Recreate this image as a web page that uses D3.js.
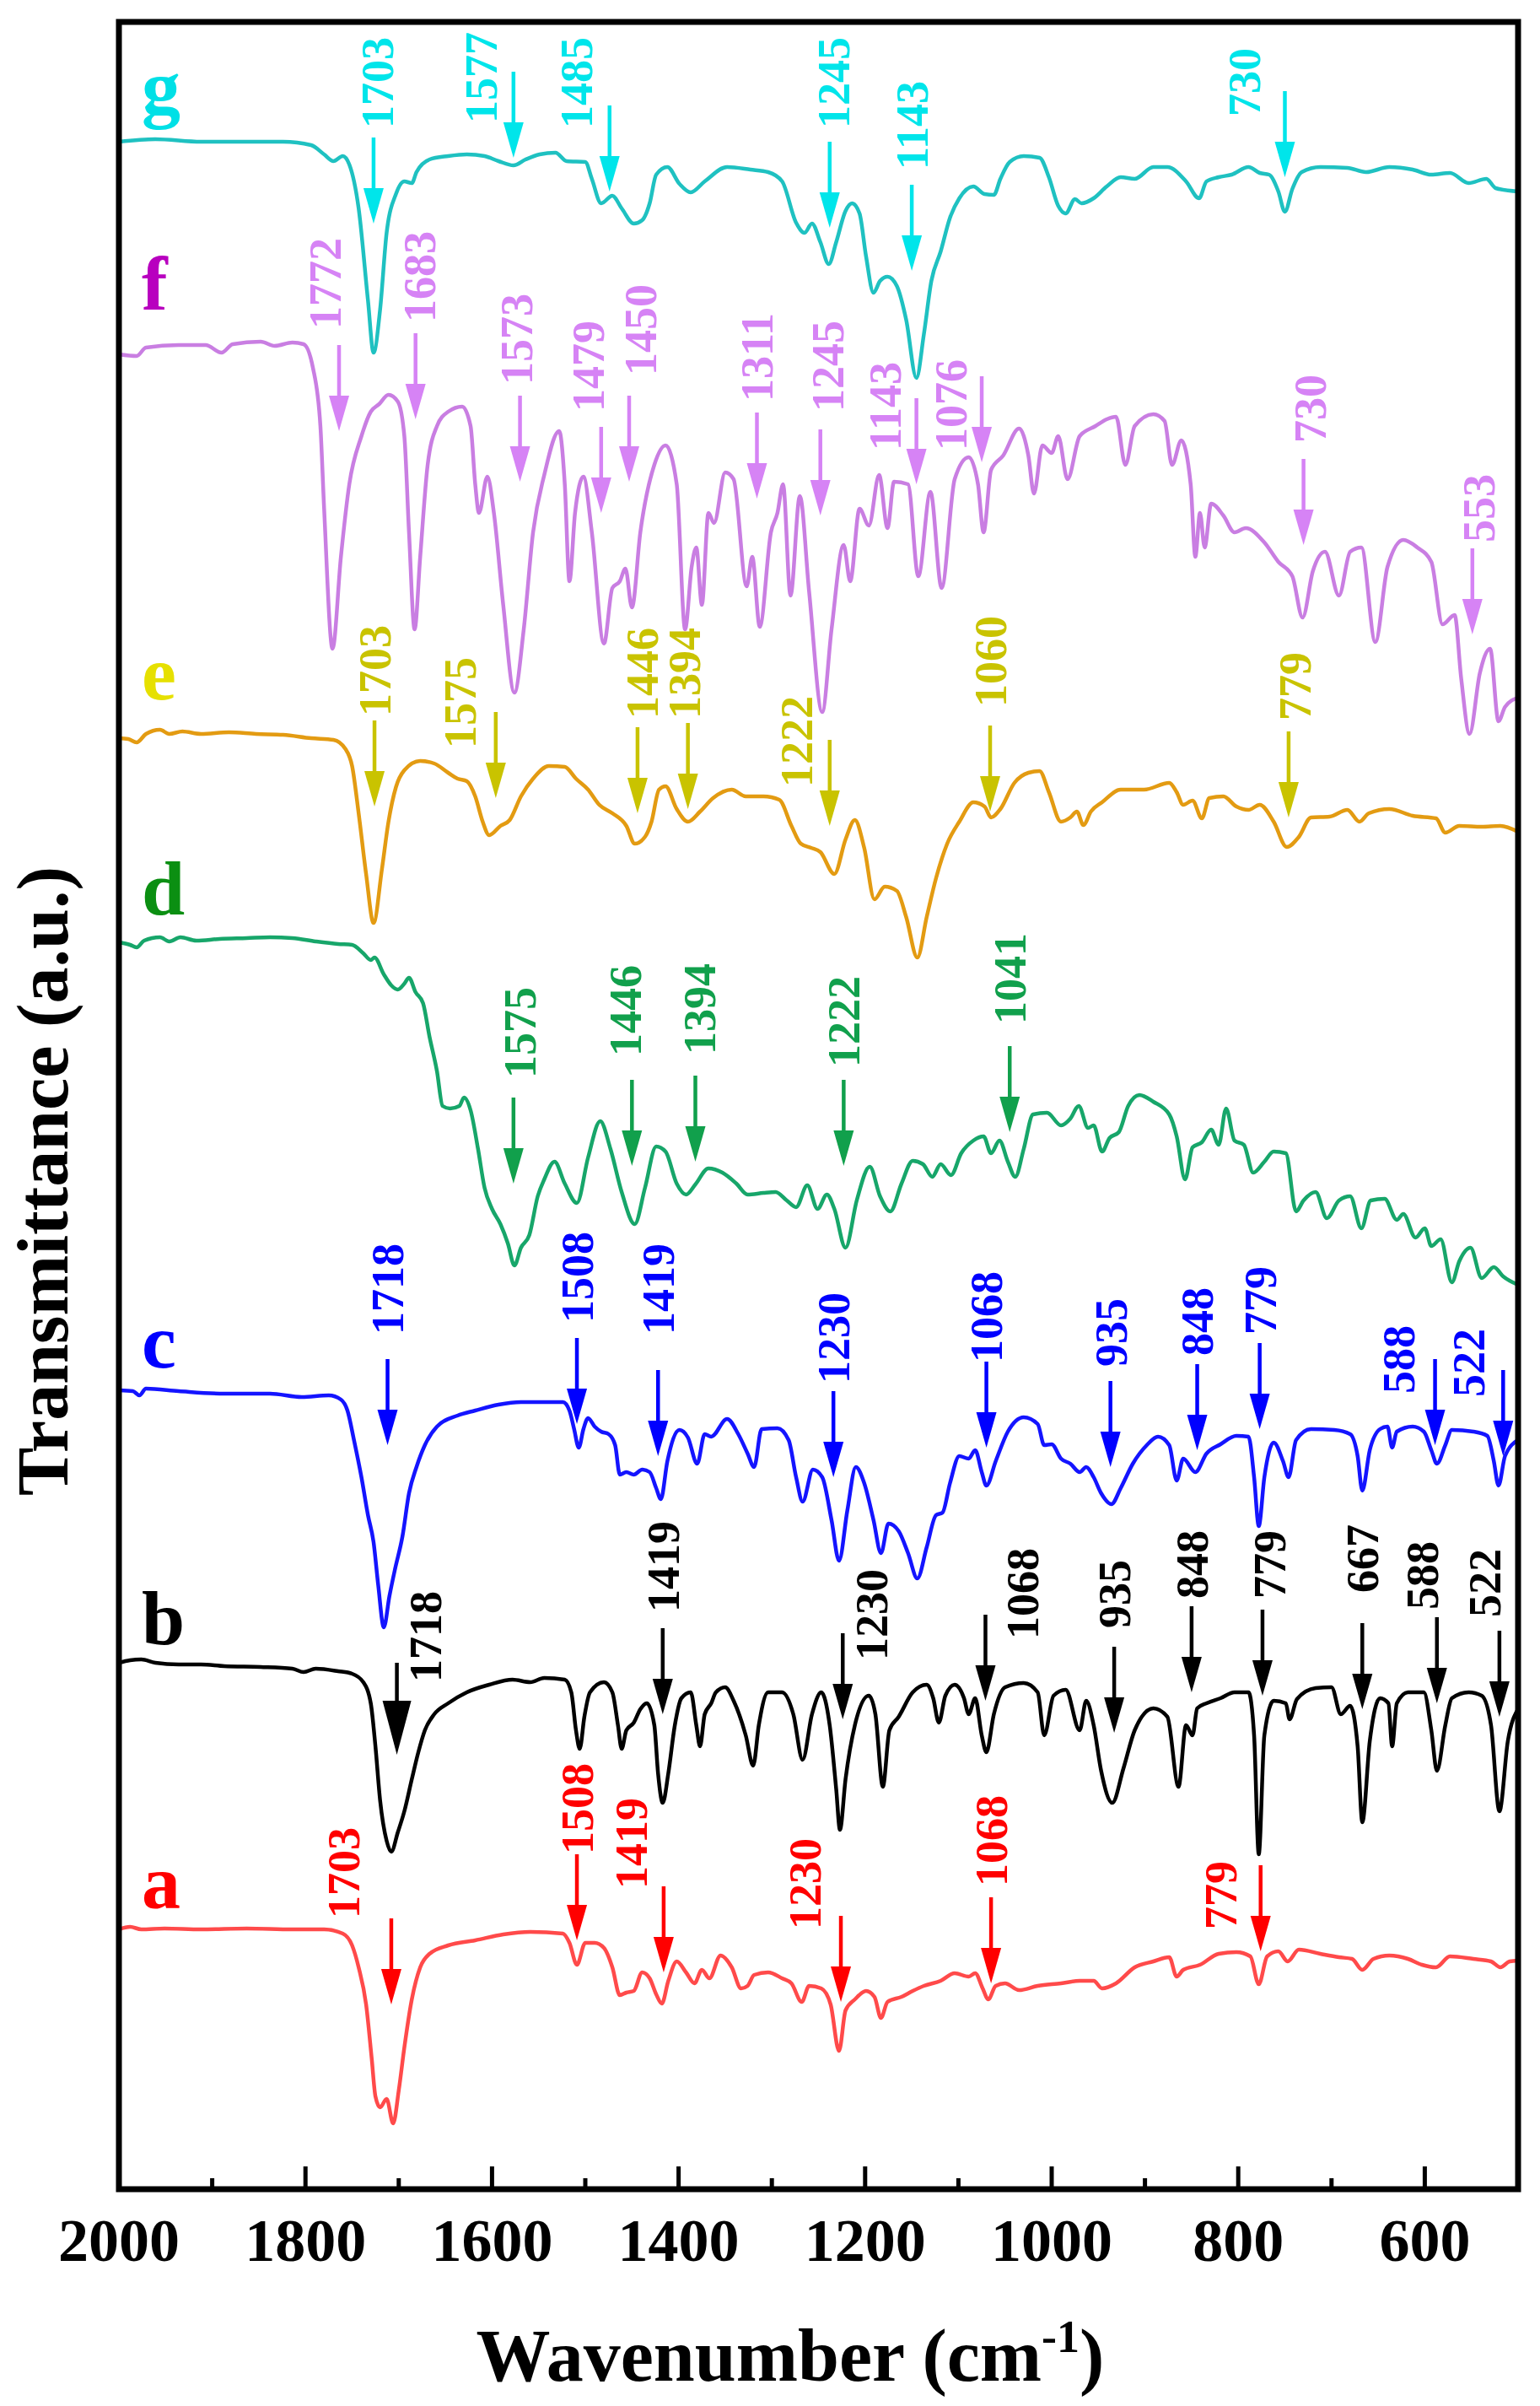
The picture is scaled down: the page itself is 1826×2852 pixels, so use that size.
<!DOCTYPE html>
<html>
<head>
<meta charset="utf-8">
<script src="https://cdn.jsdelivr.net/npm/d3@7"></script>
<style>
  body { margin: 0; background: #fff; }
  svg { display: block; }
</style>
</head>
<body>
<div id="chart"></div>
<script>
// FTIR spectra a-g, stacked, transmittance in arbitrary units (offsets included)
const xTicks = [2000, 1800, 1600, 1400, 1200, 1000, 800, 600];
const xMinorTicks = [1900, 1700, 1500, 1300, 1100, 900, 700];

const gTrace = [[2000,2424],[1961,2427],[1912,2424],[1863,2424],[1824,2424],[1794,2420],[1780,2409],[1770,2401],[1760,2407],[1753,2397],[1743,2345],[1733,2236],[1727,2174],[1720,2225],[1713,2316],[1703,2362],[1694,2377],[1686,2375],[1681,2388],[1667,2403],[1647,2407],[1627,2409],[1608,2407],[1593,2401],[1577,2396],[1564,2403],[1549,2409],[1532,2411],[1520,2401],[1500,2400],[1493,2380],[1483,2351],[1471,2360],[1461,2345],[1448,2327],[1439,2331],[1431,2351],[1424,2385],[1412,2394],[1399,2374],[1387,2364],[1372,2377],[1348,2394],[1323,2391],[1304,2388],[1289,2377],[1274,2328],[1265,2316],[1257,2327],[1248,2305],[1239,2279],[1231,2305],[1221,2342],[1214,2351],[1206,2339],[1199,2288],[1191,2245],[1184,2259],[1176,2264],[1166,2253],[1156,2213],[1145,2144],[1137,2196],[1129,2259],[1119,2294],[1109,2334],[1099,2357],[1084,2371],[1072,2362],[1062,2361],[1055,2380],[1045,2400],[1030,2407],[1013,2405],[1003,2382],[993,2348],[985,2339],[975,2356],[968,2351],[955,2357],[941,2371],[926,2382],[911,2380],[891,2394],[876,2394],[856,2377],[842,2357],[834,2377],[821,2382],[807,2385],[789,2394],[777,2387],[767,2385],[757,2365],[750,2341],[742,2368],[732,2388],[712,2394],[683,2393],[663,2388],[638,2394],[613,2391],[593,2385],[573,2387],[553,2375],[534,2380],[524,2369],[500,2365]];

const fTrace = [[2000,2172],[1981,2170],[1971,2180],[1936,2183],[1907,2183],[1890,2174],[1878,2184],[1848,2187],[1833,2182],[1814,2186],[1802,2184],[1792,2156],[1784,2087],[1780,1989],[1771,1823],[1762,1932],[1753,2018],[1740,2075],[1730,2104],[1721,2113],[1711,2124],[1701,2116],[1694,2075],[1689,1961],[1683,1846],[1677,1932],[1669,2041],[1659,2087],[1647,2104],[1632,2110],[1623,2087],[1618,2018],[1614,1984],[1605,2027],[1598,1984],[1588,1875],[1576,1771],[1566,1846],[1556,1961],[1544,2029],[1528,2081],[1522,2018],[1517,1903],[1511,1984],[1502,2027],[1493,1961],[1480,1829],[1471,1895],[1463,1903],[1457,1918],[1450,1872],[1441,1961],[1426,2041],[1414,2064],[1402,2018],[1393,1846],[1386,1920],[1381,1943],[1375,1875],[1368,1984],[1362,1972],[1350,2032],[1341,2024],[1327,1897],[1321,1932],[1313,1849],[1301,1961],[1294,1984],[1288,2018],[1280,1886],[1270,2004],[1260,1890],[1246,1748],[1236,1846],[1223,1946],[1216,1903],[1206,1989],[1196,1969],[1185,2029],[1176,1966],[1169,2021],[1154,2018],[1143,1909],[1130,2009],[1118,1895],[1104,2024],[1089,2050],[1079,2018],[1073,1961],[1065,2035],[1052,2052],[1035,2084],[1025,2052],[1019,2007],[1010,2064],[1000,2055],[993,2075],[983,2024],[970,2075],[953,2087],[941,2095],[931,2098],[921,2041],[911,2087],[891,2101],[879,2093],[871,2041],[861,2070],[851,2018],[846,1932],[841,1984],[836,1943],[829,1995],[816,1981],[804,1961],[792,1966],[772,1949],[757,1926],[742,1909],[731,1860],[720,1915],[707,1938],[692,1886],[680,1938],[668,1943],[653,1831],[640,1920],[623,1952],[608,1943],[593,1926],[581,1852],[568,1863],[561,1788],[552,1722],[541,1794],[530,1823],[521,1737],[514,1754],[500,1765]];

const eTrace = [[2000,1717],[1990,1716],[1981,1712],[1971,1722],[1956,1727],[1946,1722],[1932,1725],[1912,1722],[1882,1724],[1853,1722],[1824,1721],[1794,1717],[1770,1715],[1757,1704],[1750,1684],[1743,1628],[1735,1556],[1727,1498],[1718,1562],[1711,1618],[1703,1659],[1694,1679],[1677,1690],[1662,1687],[1647,1676],[1637,1669],[1627,1666],[1618,1648],[1610,1618],[1603,1602],[1591,1613],[1581,1620],[1569,1648],[1556,1669],[1539,1684],[1522,1683],[1510,1669],[1497,1656],[1485,1638],[1471,1628],[1456,1613],[1447,1592],[1436,1600],[1429,1618],[1421,1656],[1414,1660],[1402,1633],[1390,1618],[1377,1630],[1363,1646],[1343,1656],[1328,1648],[1309,1648],[1292,1644],[1279,1613],[1269,1592],[1258,1587],[1248,1582],[1233,1556],[1221,1597],[1211,1620],[1201,1587],[1190,1526],[1179,1541],[1166,1536],[1156,1505],[1144,1457],[1134,1505],[1124,1551],[1112,1592],[1099,1618],[1084,1641],[1072,1636],[1065,1623],[1055,1633],[1040,1664],[1025,1676],[1013,1678],[1003,1653],[990,1618],[980,1623],[973,1630],[966,1614],[958,1630],[946,1641],[926,1656],[901,1656],[874,1664],[866,1653],[859,1638],[849,1643],[839,1622],[831,1646],[816,1648],[802,1636],[789,1632],[777,1638],[762,1618],[748,1588],[735,1600],[722,1623],[702,1624],[683,1632],[670,1618],[660,1628],[638,1633],[613,1625],[588,1622],[578,1605],[563,1613],[539,1612],[519,1613],[500,1606]];

const dTrace = [[2000,1475],[1988,1472],[1981,1469],[1973,1477],[1956,1481],[1946,1476],[1934,1481],[1917,1477],[1892,1479],[1863,1480],[1838,1481],[1814,1480],[1789,1476],[1765,1473],[1750,1472],[1738,1462],[1730,1454],[1726,1457],[1716,1437],[1708,1424],[1701,1419],[1694,1426],[1689,1433],[1682,1416],[1674,1403],[1667,1363],[1659,1322],[1653,1281],[1645,1278],[1635,1281],[1630,1291],[1623,1276],[1615,1230],[1608,1184],[1600,1159],[1591,1141],[1583,1118],[1576,1092],[1569,1113],[1560,1128],[1551,1174],[1544,1194],[1533,1215],[1522,1189],[1509,1166],[1497,1220],[1484,1263],[1473,1230],[1461,1179],[1447,1141],[1436,1184],[1424,1233],[1414,1227],[1402,1189],[1392,1176],[1382,1188],[1368,1207],[1353,1202],[1338,1189],[1326,1176],[1309,1178],[1296,1179],[1284,1169],[1274,1161],[1262,1187],[1251,1159],[1241,1176],[1233,1159],[1221,1113],[1209,1169],[1195,1209],[1184,1174],[1173,1156],[1161,1189],[1149,1216],[1138,1212],[1128,1197],[1119,1212],[1108,1199],[1097,1225],[1084,1240],[1073,1245],[1065,1225],[1056,1240],[1047,1215],[1039,1197],[1030,1230],[1020,1271],[1005,1273],[990,1258],[980,1266],[971,1281],[961,1255],[955,1258],[946,1227],[938,1243],[928,1250],[918,1281],[906,1294],[891,1286],[874,1271],[866,1245],[857,1194],[849,1232],[839,1238],[829,1253],[821,1235],[813,1278],[804,1240],[794,1235],[784,1202],[772,1215],[762,1227],[749,1225],[738,1156],[730,1169],[717,1179],[705,1148],[692,1169],[680,1174],[668,1136],[658,1169],[643,1171],[630,1146],[623,1153],[610,1125],[600,1136],[593,1115],[583,1123],[571,1072],[563,1097],[551,1113],[539,1077],[526,1090],[516,1079],[500,1069]];

const cTrace = [[2000,944],[1985,943],[1978,938],[1971,946],[1936,943],[1887,940],[1838,940],[1804,936],[1775,938],[1762,933],[1755,920],[1748,885],[1740,841],[1733,796],[1727,764],[1722,713],[1716,663],[1710,700],[1704,732],[1696,771],[1689,822],[1681,853],[1672,879],[1659,901],[1637,914],[1618,920],[1593,927],[1569,930],[1544,930],[1524,930],[1517,920],[1512,898],[1507,876],[1502,898],[1497,911],[1490,901],[1483,895],[1475,892],[1468,879],[1463,844],[1456,847],[1448,844],[1439,850],[1431,847],[1424,828],[1419,815],[1412,860],[1399,897],[1390,888],[1380,857],[1372,892],[1365,889],[1348,910],[1336,892],[1326,869],[1319,853],[1311,898],[1294,899],[1282,885],[1274,841],[1267,812],[1256,850],[1246,841],[1236,790],[1228,742],[1219,802],[1210,853],[1201,834],[1191,790],[1183,751],[1175,786],[1164,777],[1154,751],[1144,721],[1134,758],[1124,796],[1117,799],[1109,834],[1099,866],[1089,863],[1082,873],[1075,847],[1070,831],[1060,860],[1047,895],[1030,912],[1015,904],[1008,879],[1000,880],[990,863],[980,857],[970,847],[963,853],[955,841],[947,822],[936,809],[926,828],[913,857],[898,879],[886,889],[874,879],[866,837],[859,863],[846,847],[834,869],[819,880],[802,890],[789,889],[783,841],[778,783],[772,841],[762,882],[752,860],[746,841],[738,885],[722,898],[697,897],[680,892],[672,866],[667,825],[659,873],[648,898],[640,901],[635,876],[630,895],[613,901],[601,895],[593,873],[587,857],[578,879],[571,897],[548,895],[533,890],[526,860],[521,831],[514,866],[500,885]];

const bTrace = [[2000,621],[1988,624],[1976,625],[1961,621],[1936,619],[1912,619],[1887,617],[1848,616],[1814,614],[1802,610],[1789,614],[1765,611],[1750,608],[1738,598],[1730,573],[1725,522],[1720,458],[1713,410],[1708,397],[1701,420],[1694,445],[1686,483],[1679,515],[1672,541],[1662,560],[1647,573],[1627,586],[1603,595],[1578,601],[1559,598],[1544,603],[1522,601],[1515,586],[1510,541],[1506,519],[1501,557],[1495,586],[1480,598],[1471,586],[1465,547],[1461,519],[1456,541],[1448,550],[1441,566],[1434,573],[1426,547],[1422,490],[1417,455],[1411,490],[1404,547],[1397,579],[1387,586],[1381,547],[1377,522],[1372,560],[1365,573],[1360,586],[1350,592],[1341,576],[1328,535],[1320,499],[1314,547],[1304,586],[1289,586],[1277,560],[1267,506],[1257,560],[1247,586],[1238,547],[1231,471],[1227,423],[1221,483],[1211,547],[1196,582],[1189,560],[1181,474],[1174,541],[1164,557],[1149,586],[1134,595],[1127,579],[1121,550],[1114,582],[1104,595],[1094,579],[1089,560],[1082,579],[1075,535],[1070,515],[1062,560],[1050,592],[1030,597],[1015,586],[1008,535],[998,582],[985,589],[970,541],[963,576],[955,547],[947,493],[935,455],[923,496],[911,541],[891,567],[876,557],[864,474],[856,547],[849,535],[844,567],[834,573],[819,579],[804,586],[789,586],[783,535],[778,394],[772,535],[762,576],[749,573],[745,554],[737,578],[717,591],[700,592],[690,560],[680,570],[672,522],[667,432],[659,528],[648,579],[639,573],[635,522],[630,573],[618,586],[601,586],[593,541],[587,493],[578,547],[571,579],[553,586],[539,582],[529,547],[520,445],[511,528],[500,566]];

const aTrace = [[2000,305],[1988,308],[1976,305],[1951,306],[1912,305],[1863,306],[1814,305],[1780,305],[1760,300],[1750,286],[1743,260],[1735,216],[1729,152],[1725,107],[1720,94],[1713,104],[1706,75],[1700,114],[1694,165],[1686,222],[1677,260],[1667,276],[1647,286],[1618,292],[1588,299],[1559,302],[1524,300],[1517,289],[1509,263],[1500,289],[1490,289],[1480,283],[1471,260],[1463,227],[1456,230],[1448,232],[1439,254],[1431,247],[1424,228],[1418,217],[1411,244],[1402,267],[1392,254],[1383,241],[1375,257],[1367,247],[1355,274],[1343,260],[1333,235],[1326,238],[1319,251],[1304,254],[1289,247],[1279,241],[1268,219],[1260,238],[1247,235],[1237,216],[1228,161],[1221,209],[1211,222],[1199,232],[1190,225],[1183,200],[1176,219],[1161,225],[1149,232],[1137,238],[1119,244],[1104,253],[1089,249],[1082,253],[1074,235],[1068,222],[1060,238],[1050,241],[1035,233],[1015,238],[990,241],[970,244],[955,244],[946,235],[931,241],[911,260],[891,267],[874,272],[866,249],[859,257],[841,263],[821,276],[802,278],[787,273],[778,240],[769,273],[757,279],[747,267],[735,281],[712,276],[692,272],[678,270],[667,257],[655,270],[638,274],[618,270],[603,263],[588,260],[573,273],[548,270],[529,267],[519,260],[509,267],[500,268]];

// peak marks: [label, wavenumber at arrow, level of arrow tip, level of label foot]
const gPeaks = [["1703",1727,2327,2440],["1577",1577,2405,2446],["1485",1474,2365,2440],["1245",1238,2322,2440],["1143",1150,2271,2391],["730",750,2382,2454]];
const fPeaks = [["1772",1764,2081,2202],["1683",1682,2095,2210],["1573",1570,2021,2136],["1479",1483,1984,2104],["1450",1453,2021,2147],["1311",1316,2001,2116],["1245",1248,1981,2104],["1143",1145,2018,2058],["1076",1075,2044,2058],["730",730,1946,2067],["553",549,1840,1949]];
const ePeaks = [["1703",1726,1636,1743],["1575",1596,1646,1705],["1446",1444,1628,1740],["1394",1390,1633,1740],["1222",1238,1613,1659],["1060",1066,1630,1754],["779",746,1623,1738]];
const dPeaks = [["1575",1577,1189,1314],["1446",1450,1210,1340],["1394",1382,1215,1342],["1222",1223,1210,1327],["1041",1045,1250,1378]];
const cPeaks = [["1718",1712,879,1010],["1508",1509,904,1024],["1419",1422,866,1010],["1230",1234,841,952],["1068",1070,876,977],["935",937,853,972],["848",844,873,985],["779",777,898,1010],["588",589,879,940],["522",516,866,936]];
const bPeaks = [["1718",1702,512,598],["1419",1417,560,681],["1230",1224,554,624],["1068",1071,576,649],["935",933,538,662],["848",850,586,697],["779",774,582,697],["667",667,566,704],["588",587,573,684],["522",520,557,675]];
const aPeaks = [["1703",1708,216,318],["1508",1509,292,394],["1419",1416,254,353],["1230",1226,219,305],["1068",1065,241,356],["779",776,279,305]];

// sample letters and the level they sit at
const sampleNames = ["g", "f", "e", "d", "c", "b", "a"];
const sampleTagLevel = [2457, 2225, 1763, 1508, 971, 643, 330];

// ---- layout and styles ----
const W = 1826, H = 2852;
const font = "'Liberation Serif', 'Times New Roman', serif";
const styles = {
    g: { line: "#1fc1c1", mark: "#00e5ea", tag: "#00e0e6" },
    f: { line: "#c97ee2", mark: "#d683f5", tag: "#b800bf" },
    e: { line: "#e39b12", mark: "#c9c300", tag: "#e6e000" },
    d: { line: "#17a66a", mark: "#11a04c", tag: "#0b8f12" },
    c: { line: "#1414ff", mark: "#0000ff", tag: "#0000ff" },
    b: { line: "#000000", mark: "#000000", tag: "#000000" },
    a: { line: "#ff4a4a", mark: "#ff0000", tag: "#ff0000" }
};
const traces = { g: gTrace, f: fTrace, e: eTrace, d: dTrace, c: cTrace, b: bTrace, a: aTrace };
const peaks = { g: gPeaks, f: fPeaks, e: ePeaks, d: dPeaks, c: cPeaks, b: bPeaks, a: aPeaks };
// horizontal nudges of some labels off their arrow (px)
const nudge = {
    g1703: 4, g1577: -39, g1485: -40, g1245: 4, g730: -48,
    f1772: -17, f1683: 4, f1573: -4, f1479: -16, f1450: 13, f1245: 8, f1143: -38, f1076: -37, f730: 7, f553: 7,
    e1575: -43, e1446: 5, e1394: -5, e1222: -40, e779: 7,
    d1575: 7, d1446: -8, d1394: 5,
    c588: -43, c522: -41,
    b1718: 34, b1230: 34, b1068: 44, b588: -18, b522: -18, b779: 8,
    a1703: -57, a1419: -39, a1230: -43, a779: -48
};

const plot = { left: 141, right: 1800, top: 26, bottom: 2595 };

const svg = d3.select("#chart").append("svg")
    .attr("width", W)
    .attr("height", H)
    .style("font-family", font);

svg.append("rect").attr("width", W).attr("height", H).attr("fill", "#fff");

const x = d3.scaleLinear().domain([2000, 500]).range([plot.left, plot.right]);
const y = d3.scaleLinear().domain([0, 2570]).range([2592, 22]);

const line = d3.line()
    .x(d => x(d[0]))
    .y(d => y(d[1]))
    .curve(d3.curveMonotoneX);

// spectra
sampleNames.forEach((k, i) => {
    const st = styles[k];
    svg.append("path")
        .datum(traces[k])
        .attr("d", line)
        .attr("fill", "none")
        .attr("stroke", st.line)
        .attr("stroke-width", 4.5)
        .attr("stroke-linejoin", "round");

    // sample letter
    svg.append("text")
        .attr("x", 168)
        .attr("y", y(sampleTagLevel[i]))
        .attr("font-size", 92)
        .attr("font-weight", "bold")
        .attr("fill", st.tag)
        .text(k);

    // arrows and peak labels
    peaks[k].forEach(p => {
        const [lab, wn, tip, foot] = p;
        const big = (k === "b" && lab === "1718");
        const px = x(wn), ty = y(tip);
        const len = big ? 109 : 102, head = big ? 64 : 42, hw = big ? 17 : 12;
        const g = svg.append("g");
        g.append("line")
            .attr("x1", px).attr("x2", px)
            .attr("y1", ty - len).attr("y2", ty - head + 2)
            .attr("stroke", st.mark)
            .attr("stroke-width", 4.5);
        g.append("path")
            .attr("d", `M${px - hw},${ty - head} L${px + hw},${ty - head} L${px},${ty} Z`)
            .attr("fill", st.mark);
        const dx = nudge[k + lab] || 0;
        g.append("text")
            .attr("transform", `translate(${px + dx},${y(foot)}) rotate(-90)`)
            .attr("dy", "0.35em")
            .attr("text-anchor", "start")
            .attr("font-size", 54)
            .attr("font-weight", "bold")
            .attr("fill", st.mark)
            .text(lab);
    });
});

// frame
svg.append("rect")
    .attr("x", plot.left).attr("y", plot.top)
    .attr("width", plot.right - plot.left)
    .attr("height", plot.bottom - plot.top)
    .attr("fill", "none")
    .attr("stroke", "#000")
    .attr("stroke-width", 7);

// bottom axis ticks (pointing inward)
svg.append("g").selectAll("line.major")
    .data(xTicks)
    .join("line")
    .attr("x1", d => x(d)).attr("x2", d => x(d))
    .attr("y1", plot.bottom).attr("y2", plot.bottom - 27)
    .attr("stroke", "#000").attr("stroke-width", 5);

svg.append("g").selectAll("line.minor")
    .data(xMinorTicks)
    .join("line")
    .attr("x1", d => x(d)).attr("x2", d => x(d))
    .attr("y1", plot.bottom).attr("y2", plot.bottom - 13)
    .attr("stroke", "#000").attr("stroke-width", 5);

svg.append("g").selectAll("text")
    .data(xTicks)
    .join("text")
    .attr("x", d => x(d))
    .attr("y", 2680)
    .attr("text-anchor", "middle")
    .attr("font-size", 72)
    .attr("font-weight", "bold")
    .text(d => d);

// axis titles
const xt = svg.append("text")
    .attr("x", 937)
    .attr("y", 2822)
    .attr("text-anchor", "middle")
    .attr("font-size", 88)
    .attr("font-weight", "bold");
xt.append("tspan").text("Wavenumber (cm");
xt.append("tspan").attr("dy", -34).attr("font-size", 54).text("-1");
xt.append("tspan").attr("dy", 34).text(")");

svg.append("text")
    .attr("transform", "translate(80,1400) rotate(-90)")
    .attr("text-anchor", "middle")
    .attr("font-size", 86)
    .attr("font-weight", "bold")
    .text("Transmittance (a.u.)");
</script>
</body>
</html>
